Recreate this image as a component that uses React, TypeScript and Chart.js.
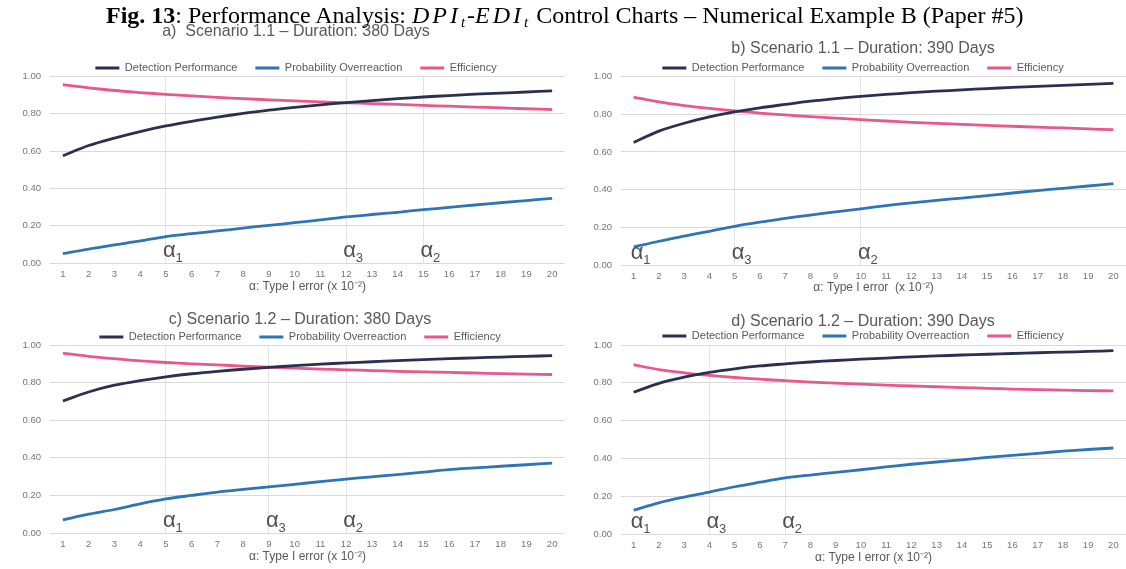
import { useEffect, useRef } from "react";
import { Chart, registerables } from "chart.js";

Chart.register(...registerables);

// α (type I error, x 10^-2) categories shared by all four panels
const alphaSteps = ["1", "2", "3", "4", "5", "6", "7", "8", "9", "10", "11", "12", "13", "14", "15", "16", "17", "18", "19", "20"];

// a) Scenario 1.1 – 380 days
const detectionA = [0.575, 0.63, 0.67, 0.705, 0.735, 0.76, 0.782, 0.802, 0.82, 0.835, 0.848, 0.86, 0.871, 0.881, 0.89, 0.898, 0.905, 0.911, 0.917, 0.923];
const overreactionA = [0.05, 0.075, 0.097, 0.118, 0.142, 0.157, 0.172, 0.187, 0.202, 0.216, 0.231, 0.247, 0.26, 0.272, 0.286, 0.298, 0.311, 0.323, 0.335, 0.347];
const efficiencyA = [0.956, 0.939, 0.925, 0.914, 0.904, 0.896, 0.888, 0.881, 0.875, 0.869, 0.864, 0.859, 0.855, 0.85, 0.845, 0.841, 0.836, 0.832, 0.827, 0.823];
const alphaNamesA = ["1", "3", "2"];
const alphaAtA = ["5", "12", "15"];
const guideAtA = ["5", "12", "15"];

// b) Scenario 1.1 – 390 days
const detectionB = [0.65, 0.71, 0.752, 0.786, 0.812, 0.834, 0.852, 0.869, 0.883, 0.895, 0.905, 0.914, 0.922, 0.929, 0.936, 0.942, 0.948, 0.953, 0.958, 0.963];
const overreactionB = [0.095, 0.126, 0.153, 0.179, 0.205, 0.227, 0.247, 0.265, 0.282, 0.298, 0.315, 0.33, 0.343, 0.355, 0.368, 0.382, 0.395, 0.407, 0.419, 0.432];
const efficiencyB = [0.891, 0.865, 0.846, 0.831, 0.818, 0.806, 0.796, 0.787, 0.779, 0.771, 0.764, 0.757, 0.751, 0.746, 0.741, 0.736, 0.731, 0.727, 0.722, 0.718];
const alphaNamesB = ["1", "3", "2"];
const alphaAtB = ["1", "5", "10"];
const guideAtB = ["5", "10"];

// c) Scenario 1.2 – 380 days
const detectionC = [0.702, 0.75, 0.786, 0.811, 0.831, 0.847, 0.86, 0.871, 0.881, 0.89, 0.898, 0.905, 0.911, 0.917, 0.922, 0.927, 0.932, 0.936, 0.94, 0.943];
const overreactionC = [0.07, 0.1, 0.125, 0.155, 0.181, 0.2, 0.218, 0.232, 0.245, 0.259, 0.273, 0.287, 0.299, 0.311, 0.324, 0.337, 0.346, 0.355, 0.363, 0.372];
const efficiencyC = [0.957, 0.94, 0.927, 0.916, 0.907, 0.9, 0.894, 0.888, 0.882, 0.877, 0.872, 0.868, 0.864, 0.86, 0.857, 0.854, 0.851, 0.848, 0.845, 0.843];
const alphaNamesC = ["1", "3", "2"];
const alphaAtC = ["5", "9", "12"];
const guideAtC = ["5", "9", "12"];

// d) Scenario 1.2 – 390 days
const detectionD = [0.75, 0.797, 0.83, 0.855, 0.874, 0.889, 0.9, 0.91, 0.918, 0.925, 0.931, 0.937, 0.942, 0.947, 0.951, 0.955, 0.959, 0.962, 0.966, 0.97];
const overreactionD = [0.126, 0.165, 0.195, 0.222, 0.25, 0.274, 0.297, 0.312, 0.326, 0.34, 0.355, 0.369, 0.381, 0.392, 0.405, 0.416, 0.427, 0.438, 0.447, 0.455];
const efficiencyD = [0.896, 0.87, 0.853, 0.839, 0.828, 0.819, 0.811, 0.804, 0.798, 0.793, 0.788, 0.783, 0.779, 0.775, 0.771, 0.767, 0.764, 0.761, 0.759, 0.757];
const alphaNamesD = ["1", "3", "2"];
const alphaAtD = ["1", "4", "7"];
const guideAtD = ["4", "7"];

const SANS = '"Liberation Sans", Arial, sans-serif';
const NAVY = "#2a3150";
const BLUE = "#2e75b6";
const PINK = "#e9578b";
const TEXT = "#595959";
const TICK = "#767676";

const TITLE_SIZE = 16;
const TITLE_LH = TITLE_SIZE * 1.2;
const LEGEND_SIZE = 11;
const LEGEND_PAD = 18;

// Greek α with a subscript index, sitting just above the x axis
const alphaMarks = {
  id: "alphaMarks",
  afterDatasetsDraw(chart: any, _args: any, opts: any) {
    const { ctx, scales } = chart;
    const x = scales.x;
    const y = scales.y;
    const names: string[] = opts.names || [];
    const at: string[] = opts.at || [];
    ctx.save();
    ctx.fillStyle = "#505050";
    ctx.textAlign = "left";
    ctx.textBaseline = "alphabetic";
    names.forEach((name, i) => {
      const px = x.getPixelForValue(alphaSteps.indexOf(at[i])) - 3;
      const base = y.bottom - 6;
      ctx.font = `22px ${SANS}`;
      ctx.fillText("α", px, base);
      const w = ctx.measureText("α").width;
      ctx.font = `13px ${SANS}`;
      ctx.fillText(name, px + w, base + 5);
    });
    ctx.restore();
  },
};

type PanelProps = {
  title: string;
  xTitle: string;
  detection: number[];
  overreaction: number[];
  efficiency: number[];
  alphaNames: string[];
  alphaAt: string[];
  guideAt: string[];
  left: number;
  top: number;
  width: number;
  height: number;
  titleY: number;
  legendY: number;
  plotTop: number;
  yWidth: number;
  rightGutter: number;
  xHeight: number;
};

function Panel(p: PanelProps) {
  const ref = useRef<HTMLCanvasElement | null>(null);

  useEffect(() => {
    if (!ref.current) return;
    const guideIdx = p.guideAt.map((g) => alphaSteps.indexOf(g));
    // stacked header: subtitle, then legend, then the plot
    const titleTop = p.titleY - TITLE_LH / 2;
    const legendTop = p.legendY - LEGEND_PAD - LEGEND_SIZE / 2;
    const titlePadBottom = legendTop - titleTop - TITLE_LH;
    const legendHeight = p.plotTop - legendTop;
    const series = [
      { label: "Detection Performance", data: p.detection, color: NAVY },
      { label: "Probability Overreaction", data: p.overreaction, color: BLUE },
      { label: "Efficiency", data: p.efficiency, color: PINK },
    ];
    const chart = new Chart(ref.current, {
      type: "line",
      data: {
        labels: alphaSteps,
        datasets: series.map((s) => ({
          label: s.label,
          data: s.data,
          borderColor: s.color,
          backgroundColor: s.color,
          borderWidth: 2.8,
          pointRadius: 0,
          tension: 0.3,
          fill: false,
        })),
      },
      options: {
        animation: false,
        responsive: false,
        maintainAspectRatio: false,
        devicePixelRatio: 1,
        layout: { padding: { top: titleTop, right: 0, left: 0, bottom: 0 } },
        plugins: {
          title: {
            display: true,
            text: p.title,
            color: TEXT,
            font: { family: SANS, size: TITLE_SIZE, weight: "normal", lineHeight: 1.2 },
            padding: { top: 0, bottom: titlePadBottom },
          },
          legend: {
            display: true,
            maxHeight: legendHeight,
            labels: {
              color: TEXT,
              font: { family: SANS, size: LEGEND_SIZE },
              boxWidth: 24,
              boxHeight: 3,
              padding: LEGEND_PAD,
              generateLabels: (c: any) =>
                Chart.defaults.plugins.legend.labels
                  .generateLabels(c)
                  .map((item: any) => ({ ...item, lineWidth: 0 })),
            },
          },
          tooltip: { enabled: false },
          alphaMarks: { names: p.alphaNames, at: p.alphaAt },
        } as any,
        scales: {
          x: {
            offset: true,
            border: { display: false },
            grid: {
              offset: false,
              drawTicks: false,
              color: (ctx: any) => (guideIdx.includes(ctx.index) ? "#e3e3e3" : "rgba(0,0,0,0)"),
            },
            ticks: {
              color: TICK,
              font: { family: SANS, size: 9.5 },
              padding: 6,
              autoSkip: false,
              maxRotation: 0,
            },
            title: {
              display: true,
              text: p.xTitle,
              color: TEXT,
              font: { family: SANS, size: 12 },
              padding: { top: 0, bottom: 0 },
            },
            afterFit: (s: any) => {
              s.height = p.xHeight;
            },
          },
          y: {
            min: 0,
            max: 1,
            border: { display: false },
            grid: { color: "#d9d9d9", drawTicks: false },
            ticks: {
              stepSize: 0.2,
              color: TICK,
              font: { family: SANS, size: 9.5 },
              padding: 9,
              callback: (v: any) => Number(v).toFixed(2),
            },
            afterFit: (s: any) => {
              s.width = p.yWidth;
            },
          },
          // empty right-hand gutter so the heading and legend centre where they should
          gutter: {
            type: "linear",
            position: "right",
            min: 0,
            max: 1,
            border: { display: false },
            grid: { display: false },
            ticks: { display: false },
            afterFit: (s: any) => {
              s.width = p.rightGutter;
            },
          },
        } as any,
      },
      plugins: [alphaMarks],
    });
    return () => chart.destroy();
  }, []);

  return (
    <canvas
      ref={ref}
      width={p.width}
      height={p.height}
      style={{ position: "absolute", left: p.left, top: p.top, width: p.width, height: p.height }}
    />
  );
}

export default function App() {
  const xTitle = "α: Type I error (x 10⁻²)";
  const mathStyle = { fontStyle: "italic" as const, letterSpacing: "3px" };
  const subStyle = { fontSize: 15, fontStyle: "italic" as const, verticalAlign: "-4px", lineHeight: 0, marginRight: 2 };
  return (
    <div
      style={{
        position: "fixed",
        left: 0,
        top: 0,
        width: 1126,
        height: 569,
        background: "#ffffff",
        overflow: "hidden",
      }}
    >
      <Panel
        title="a)  Scenario 1.1 – Duration: 380 Days"
        xTitle={xTitle}
        detection={detectionA}
        overreaction={overreactionA}
        efficiency={efficiencyA}
        alphaNames={alphaNamesA}
        alphaAt={alphaAtA}
        guideAt={guideAtA}
        left={0}
        top={0}
        width={592}
        height={294}
        titleY={32}
        legendY={68}
        plotTop={76.5}
        yWidth={50}
        rightGutter={27}
        xHeight={31}
      />
      <Panel
        title="b) Scenario 1.1 – Duration: 390 Days"
        xTitle="α: Type I error  (x 10⁻²)"
        detection={detectionB}
        overreaction={overreactionB}
        efficiency={efficiencyB}
        alphaNames={alphaNamesB}
        alphaAt={alphaAtB}
        guideAt={guideAtB}
        left={563}
        top={0}
        width={600}
        height={295}
        titleY={49}
        legendY={68}
        plotTop={76.5}
        yWidth={58}
        rightGutter={37}
        xHeight={30}
      />
      <Panel
        title="c) Scenario 1.2 – Duration: 380 Days"
        xTitle={xTitle}
        detection={detectionC}
        overreaction={overreactionC}
        efficiency={efficiencyC}
        alphaNames={alphaNamesC}
        alphaAt={alphaAtC}
        guideAt={guideAtC}
        left={0}
        top={290}
        width={600}
        height={274}
        titleY={30}
        legendY={47}
        plotTop={55}
        yWidth={50}
        rightGutter={35}
        xHeight={31}
      />
      <Panel
        title="d) Scenario 1.2 – Duration: 390 Days"
        xTitle={xTitle}
        detection={detectionD}
        overreaction={overreactionD}
        efficiency={efficiencyD}
        alphaNames={alphaNamesD}
        alphaAt={alphaAtD}
        guideAt={guideAtD}
        left={563}
        top={290}
        width={600}
        height={275}
        titleY={32}
        legendY={46}
        plotTop={55}
        yWidth={58}
        rightGutter={37}
        xHeight={31}
      />
      <div
        style={{
          position: "absolute",
          left: 106,
          top: 2,
          fontFamily: '"Liberation Serif", "Times New Roman", serif',
          fontSize: 24,
          lineHeight: "26px",
          color: "#000",
          whiteSpace: "nowrap",
        }}
      >
        <b>Fig. 13</b>: Performance Analysis: <span style={mathStyle}>DPI</span>
        <sub style={subStyle}>t</sub>-<span style={mathStyle}>EDI</span>
        <sub style={subStyle}>t</sub> Control Charts – Numerical Example B (Paper #5)
      </div>
    </div>
  );
}
